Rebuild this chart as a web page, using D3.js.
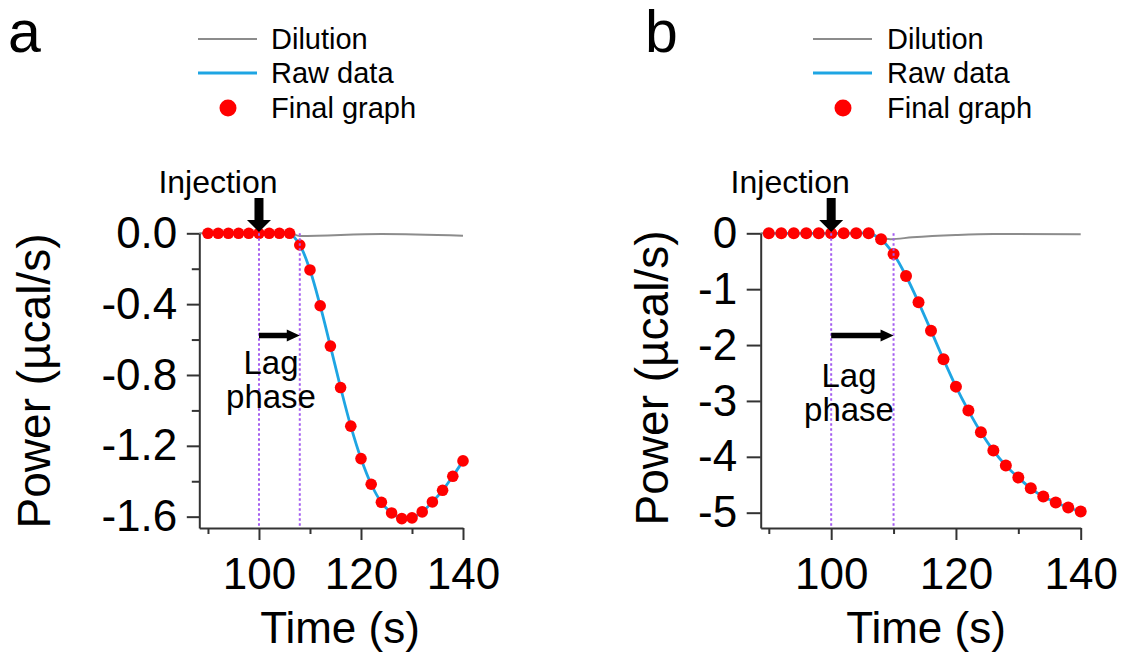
<!DOCTYPE html>
<html>
<head>
<meta charset="utf-8">
<script src="https://cdn.jsdelivr.net/npm/d3@7"></script>
<style>
body { margin: 0; background: #fff; }
svg text { font-family: "Liberation Sans", Arial, sans-serif; fill: #000; }
</style>
</head>
<body>
<svg id="chart" width="1125" height="657"></svg>
<script>

var times = [90, 92, 94, 96, 98, 100, 102, 104, 106, 108, 110, 112, 114, 116, 118, 120, 122, 124, 126, 128, 130, 132, 134, 136, 138, 140];
var powerA = [0, 0, 0, 0, 0, 0, 0, 0, 0, -0.066, -0.207, -0.409, -0.637, -0.871, -1.089, -1.272, -1.417, -1.519, -1.579, -1.611, -1.607, -1.573, -1.517, -1.451, -1.372, -1.285];
var powerB = [0, 0, 0, 0, 0, 0, 0, 0, 0, -0.107, -0.370, -0.764, -1.235, -1.742, -2.255, -2.744, -3.173, -3.561, -3.889, -4.157, -4.372, -4.563, -4.711, -4.818, -4.908, -4.980];

var dilutionTimeA = [88.3, 106, 108, 124, 140];
var dilutionA = [0, 0, -0.015, -0.004, -0.014];
var dilutionTimeB = [88.7, 106, 108, 109.5, 113, 120, 126, 140];
var dilutionB = [0, 0, -0.08, -0.105, -0.072, -0.03, -0.012, -0.018];

var xTicks = [100, 120, 140];
var xMinorTicks = [90, 110, 130];
var yTicksA = [0, -0.4, -0.8, -1.2, -1.6];
var yMinorTicksA = [-0.2, -0.6, -1.0, -1.4];
var yTicksB = [0, -1, -2, -3, -4, -5];

var injectionTime = 100;
var lagEndA = 108;
var lagEndB = 110;

var legendLabels = ['Dilution', 'Raw data', 'Final graph'];

Fig = {};

Fig.init = function() {
    this.svg = d3.select('#chart');
    this.drawPanel({
        label: 'a', labelX: 8,
        power: powerA, dilT: dilutionTimeA, dil: dilutionA, lagEnd: lagEndA,
        left: 199.3, right: 463, xDomain: [88.3, 140], yDomain: [-1.664, 0],
        yTicks: yTicksA, yMinor: yMinorTicksA, yTickSize: 12.5,
        yFormat: function(d) { return d.toFixed(1); },
        r: 5.8, legendX: 198, legendTextX: 271,
        lagTextX: 271, lagY: [374, 408],
        xTitleX: 340, yTitleX: 50, yTitleY: 381
    });
    this.drawPanel({
        label: 'b', labelX: 645,
        power: powerB, dilT: dilutionTimeB, dil: dilutionB, lagEnd: lagEndB,
        left: 760.7, right: 1080.7, xDomain: [88.7, 140], yDomain: [-5.274, 0],
        yTicks: yTicksB, yMinor: [], yTickSize: 14,
        yFormat: function(d) { return String(d); },
        r: 6, legendX: 813, legendTextX: 887,
        lagTextX: 849, lagY: [387, 421],
        xTitleX: 926, yTitleX: 668, yTitleY: 378
    });
};

Fig.drawPanel = function(cfg) {
    var svg = this.svg;
    var top = 233.3, bottom = 528;

    var x = d3.scaleLinear().domain(cfg.xDomain).range([cfg.left, cfg.right]);
    var y = d3.scaleLinear().domain(cfg.yDomain).range([bottom, top]);

    var g = svg.append('g');

    // panel letter
    g.append('text')
        .attr('x', cfg.labelX).attr('y', 52)
        .style('font-size', '59px')
        .text(cfg.label);

    // legend
    var rows = [39, 73, 108];
    g.append('line')
        .attr('x1', cfg.legendX).attr('x2', cfg.legendX + 59)
        .attr('y1', rows[0]).attr('y2', rows[0])
        .attr('stroke', '#8c8c8c').attr('stroke-width', 2);
    g.append('line')
        .attr('x1', cfg.legendX).attr('x2', cfg.legendX + 59)
        .attr('y1', rows[1]).attr('y2', rows[1])
        .attr('stroke', '#1ea5e3').attr('stroke-width', 3);
    g.append('circle')
        .attr('cx', cfg.legendX + 30).attr('cy', rows[2]).attr('r', 8.5)
        .attr('fill', '#ff0000');
    legendLabels.forEach(function(t, i) {
        g.append('text')
            .attr('x', cfg.legendTextX).attr('y', rows[i] + 10)
            .style('font-size', '29px')
            .text(t);
    });

    // dilution and raw data
    var dilData = cfg.dilT.map(function(t, i) { return [t, cfg.dil[i]]; });
    g.append('path')
        .datum(dilData)
        .attr('fill', 'none').attr('stroke', '#8c8c8c').attr('stroke-width', 2)
        .attr('d', d3.line()
            .x(function(d) { return x(d[0]); })
            .y(function(d) { return y(d[1]); })
            .curve(d3.curveMonotoneX));

    var rawData = times.map(function(t, i) { return [t, cfg.power[i]]; });
    g.append('path')
        .datum(rawData)
        .attr('fill', 'none').attr('stroke', '#1ea5e3').attr('stroke-width', 2.8)
        .attr('d', d3.line()
            .x(function(d) { return x(d[0]); })
            .y(function(d) { return y(d[1]); })
            .curve(d3.curveCatmullRom));

    g.selectAll('circle.pt')
        .data(rawData)
        .enter().append('circle')
        .attr('class', 'pt')
        .attr('cx', function(d) { return x(d[0]); })
        .attr('cy', function(d) { return y(d[1]); })
        .attr('r', cfg.r)
        .attr('fill', '#ff0000');

    // dotted markers for injection and end of lag
    [injectionTime, cfg.lagEnd].forEach(function(t) {
        g.append('line')
            .attr('x1', x(t)).attr('x2', x(t))
            .attr('y1', top).attr('y2', bottom)
            .attr('stroke', '#a45cf0').attr('stroke-width', 2)
            .attr('stroke-dasharray', '2.5,2.5');
    });

    // injection arrow
    var xi = x(injectionTime);
    g.append('path')
        .attr('d', 'M' + (xi - 4.5) + ',198V220H' + (xi - 12) + 'L' + xi + ',232L' + (xi + 12) + ',220H' + (xi + 4.5) + 'V198Z')
        .attr('fill', '#000');
    g.append('text')
        .attr('x', xi - 41).attr('y', 193)
        .attr('text-anchor', 'middle')
        .style('font-size', '32px')
        .text('Injection');

    // lag arrow
    var xl = x(cfg.lagEnd), ya = 335.5;
    g.append('path')
        .attr('d', 'M' + xi + ',' + (ya - 2.7) + 'H' + (xl - 13) + 'V' + (ya - 6) + 'L' + xl + ',' + ya +
              'L' + (xl - 13) + ',' + (ya + 6) + 'V' + (ya + 2.7) + 'H' + xi + 'Z')
        .attr('fill', '#000');
    g.append('text')
        .attr('x', cfg.lagTextX).attr('y', cfg.lagY[0])
        .attr('text-anchor', 'middle')
        .style('font-size', '33px')
        .text('Lag');
    g.append('text')
        .attr('x', cfg.lagTextX).attr('y', cfg.lagY[1])
        .attr('text-anchor', 'middle')
        .style('font-size', '33px')
        .text('phase');

    // axes
    g.append('g')
        .attr('transform', 'translate(' + cfg.left + ',0)')
        .call(d3.axisLeft(y).tickValues(cfg.yTicks).tickFormat(cfg.yFormat)
            .tickSize(cfg.yTickSize).tickPadding(9.5).tickSizeOuter(0));
    if (cfg.yMinor.length) {
        g.append('g')
            .attr('transform', 'translate(' + cfg.left + ',0)')
            .call(d3.axisLeft(y).tickValues(cfg.yMinor).tickFormat('').tickSize(7.5).tickSizeOuter(0))
            .select('.domain').remove();
    }
    g.append('g')
        .attr('transform', 'translate(0,' + bottom + ')')
        .call(d3.axisBottom(x).tickValues(xTicks).tickFormat(d3.format('d'))
            .tickSize(12).tickPadding(18).tickSizeOuter(0));
    g.append('g')
        .attr('transform', 'translate(0,' + bottom + ')')
        .call(d3.axisBottom(x).tickValues(xMinorTicks).tickFormat('').tickSize(6).tickSizeOuter(0))
        .select('.domain').remove();

    g.selectAll('.domain, .tick line')
        .attr('stroke', '#333').attr('stroke-width', 2);
    g.selectAll('.tick text')
        .style('font-size', '44px')
        .style('font-family', '"Liberation Sans", Arial, sans-serif')
        .attr('fill', '#000');

    g.append('text')
        .attr('x', cfg.xTitleX).attr('y', 643)
        .attr('text-anchor', 'middle')
        .style('font-size', '44px')
        .text('Time (s)');
    g.append('text')
        .attr('transform', 'translate(' + cfg.yTitleX + ',' + cfg.yTitleY + ') rotate(-90)')
        .attr('text-anchor', 'middle')
        .style('font-size', '46px')
        .text('Power (µcal/s)');
};

Fig.init();
</script>
</body>
</html>
